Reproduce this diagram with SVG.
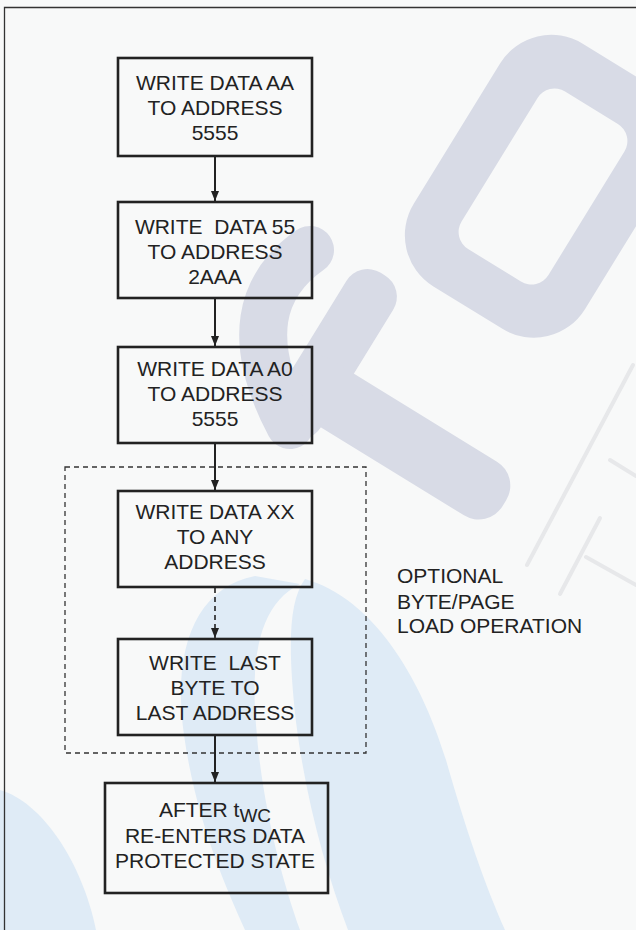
<svg xmlns="http://www.w3.org/2000/svg" width="636" height="930" viewBox="0 0 636 930">
  <defs>
    <style>
      .box { fill: none; stroke: #222; stroke-width: 2.6; }
      .lbl { font-family: "Liberation Sans", Arial, sans-serif; font-size: 21px; fill: #222; text-anchor: middle; }
      .note { font-family: "Liberation Sans", Arial, sans-serif; font-size: 21px; fill: #222; }
      .flow { stroke: #222; stroke-width: 2; fill: none; marker-end: url(#arrow); }
      .flow-dash { stroke: #222; stroke-width: 1.6; fill: none; stroke-dasharray: 5 4; marker-end: url(#arrow); }
      .group-frame { fill: none; stroke: #333; stroke-width: 1.3; stroke-dasharray: 5 4; }
      .wm-grey { fill: #d8dbe6; }
      .wm-blue { fill: #dfebf6; }
      .wm-line { stroke: #e7e8ea; stroke-width: 4; fill: none; stroke-linecap: round; }
    </style>
    <marker id="arrow" markerUnits="userSpaceOnUse" markerWidth="10" markerHeight="8" refX="10" refY="4" orient="auto">
      <path d="M0,0 L10,4 L0,8 Z" fill="#222"/>
    </marker>
  </defs>

  <!-- page background -->
  <rect x="0" y="0" width="636" height="930" fill="#f8f9f9"/>

  <!-- faint background emblem -->
  <g id="emblem">
    <g transform="rotate(31.6 543 186.5)">
      <path class="wm-grey" fill-rule="evenodd"
            d="M502,44 H583 A60,60 0 0 1 643,104 V269 A60,60 0 0 1 583,329 H502 A60,60 0 0 1 442,269 V104 A60,60 0 0 1 502,44 Z
               M512,94 H574 A20,20 0 0 1 594,114 V259 A20,20 0 0 1 574,279 H512 A20,20 0 0 1 492,259 V114 A20,20 0 0 1 512,94 Z"/>
      <rect class="wm-grey" x="425" y="345" width="55" height="188" rx="25"/>
      <rect class="wm-grey" x="425" y="445" width="251" height="63" rx="28"/>
    </g>
    <path d="M310,250 C260,285 245,340 290,425" stroke="#d8dbe6" stroke-width="48" fill="none" stroke-linecap="round"/>
    <path class="wm-line" d="M633,365 L527,565"/>
    <path class="wm-line" d="M600,518 L560,594"/>
    <path class="wm-line" d="M586,557 L636,585"/>
    <path class="wm-line" d="M610,460 L636,476"/>
    <path class="wm-blue" d="M255,576 C195,588 172,650 184,735 C196,820 225,885 245,930 L300,930 C282,880 262,805 256,725 C250,650 262,603 300,584 Z"/>
    <path class="wm-blue" d="M305,579 C372,598 420,675 446,760 C466,830 485,885 505,930 L348,930 C326,872 306,800 296,722 C288,650 288,602 305,579 Z"/>
    <path class="wm-blue" d="M0,790 C42,802 82,862 96,930 L0,930 Z"/>
  </g>

  <!-- page frame -->
  <path d="M4.5,930 V7.5 H636" fill="none" stroke="#333" stroke-width="1.3"/>

  <!-- optional byte/page load region -->
  <rect id="optional-region" class="group-frame" x="65" y="467" width="301" height="286"/>

  <g id="connectors">
    <line class="flow" x1="215" y1="157" x2="215" y2="201"/>
    <line class="flow" x1="215" y1="299" x2="215" y2="346"/>
    <line class="flow" x1="215" y1="444" x2="215" y2="490"/>
    <line class="flow-dash" x1="215" y1="588" x2="215" y2="638"/>
    <line class="flow" x1="215" y1="736" x2="215" y2="782"/>
  </g>

  <g id="step-write-aa">
    <rect class="box" x="118" y="58" width="194" height="98"/>
    <text class="lbl" x="215" y="90">WRITE DATA AA</text>
    <text class="lbl" x="215" y="115">TO ADDRESS</text>
    <text class="lbl" x="215" y="140">5555</text>
  </g>

  <g id="step-write-55">
    <rect class="box" x="118" y="202" width="194" height="96"/>
    <text class="lbl" x="215" y="234" xml:space="preserve">WRITE  DATA 55</text>
    <text class="lbl" x="215" y="259">TO ADDRESS</text>
    <text class="lbl" x="215" y="284">2AAA</text>
  </g>

  <g id="step-write-a0">
    <rect class="box" x="118" y="347" width="194" height="96"/>
    <text class="lbl" x="215" y="376">WRITE DATA A0</text>
    <text class="lbl" x="215" y="401">TO ADDRESS</text>
    <text class="lbl" x="215" y="426">5555</text>
  </g>

  <g id="step-write-xx">
    <rect class="box" x="118" y="491" width="194" height="96"/>
    <text class="lbl" x="215" y="519">WRITE DATA XX</text>
    <text class="lbl" x="215" y="544">TO ANY</text>
    <text class="lbl" x="215" y="569">ADDRESS</text>
  </g>

  <g id="step-write-last">
    <rect class="box" x="118" y="639" width="194" height="96"/>
    <text class="lbl" x="215" y="670" xml:space="preserve">WRITE  LAST</text>
    <text class="lbl" x="215" y="695">BYTE TO</text>
    <text class="lbl" x="215" y="720">LAST ADDRESS</text>
  </g>

  <g id="step-protected">
    <rect class="box" x="105" y="783" width="223" height="110"/>
    <text class="lbl" x="215" y="817">AFTER t<tspan dy="5" font-size="19">WC</tspan></text>
    <text class="lbl" x="215" y="843">RE-ENTERS DATA</text>
    <text class="lbl" x="215" y="868">PROTECTED STATE</text>
  </g>

  <g id="optional-note">
    <text class="note" x="397" y="583">OPTIONAL</text>
    <text class="note" x="397" y="609">BYTE/PAGE</text>
    <text class="note" x="397" y="633">LOAD OPERATION</text>
  </g>
</svg>
